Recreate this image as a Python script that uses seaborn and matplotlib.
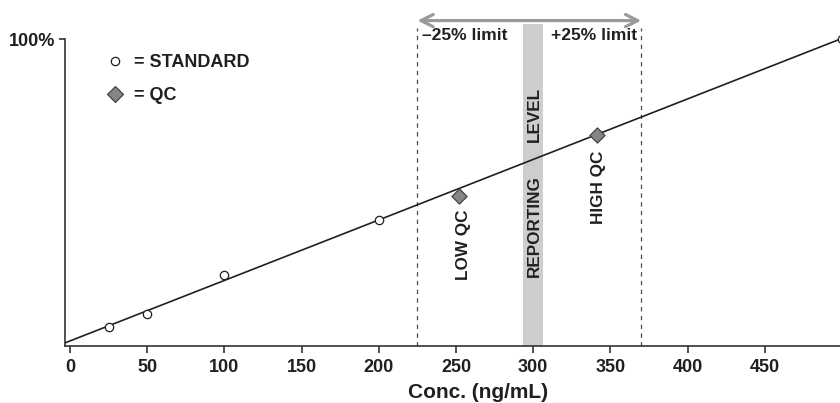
import numpy as np
import pandas as pd
import matplotlib
matplotlib.use("Agg")
import matplotlib.pyplot as plt
from matplotlib.lines import Line2D
import seaborn as sns

# ---- data ----
std_conc = [25, 50, 100, 200, 500]
std_resp = [6.1, 10.5, 23.1, 41.0, 100.0]
qc_conc = [252, 341]
qc_resp = [49.0, 68.7]
qc_labels = ["LOW QC", "HIGH QC"]
reporting_level = 300
band_half = 6.5
limit_low = 225
limit_high = 370
x_ticks = [0, 50, 100, 150, 200, 250, 300, 350, 400, 450]
y_ticks = [100]
y_tick_labels = ["100%"]

sns.set_theme(style="white")
plt.rcParams["font.family"] = ["Liberation Sans", "DejaVu Sans"]
plt.rcParams["font.weight"] = "bold"
ink = "#231f20"

fig = plt.figure(figsize=(8.4, 4.03), dpi=100)
ax = fig.add_axes([65/840, 57/403, 775/840, 336/403])
XMIN, XMAX = -3.24, 498.7
YMIN, YMAX = 0, 109.45
ax.set_xlim(XMIN, XMAX)
ax.set_ylim(YMIN, YMAX)

# reporting level band
ax.fill_between([reporting_level - band_half, reporting_level + band_half], 0, 104.9,
                color="#cdcdcf", lw=0, zorder=1)
# limit dashed lines
for xv in (limit_low, limit_high):
    ax.plot([xv, xv], [0, 103.6], ls=(0, (3.5, 3.5)), color="#4a4a4a", lw=0.9, zorder=2)
# double-headed arrow
ax.annotate("", xy=(limit_high, 106.0), xytext=(limit_low, 106.0),
            arrowprops=dict(arrowstyle="<->", color="#9a9a9a", lw=2.3,
                            mutation_scale=22, shrinkA=0, shrinkB=0),
            annotation_clip=False)
ax.text(limit_low + 3, 101.3, "\u201325% limit", ha="left", va="center",
        fontsize=12.6, fontweight="bold", color=ink)
ax.text(limit_high - 3, 101.3, "+25% limit", ha="right", va="center",
        fontsize=12.6, fontweight="bold", color=ink)

# calibration line
sns.regplot(x=std_conc, y=std_resp, scatter=False, ci=None, truncate=False,
            color=ink, line_kws=dict(lw=1.2, zorder=3), ax=ax)
ax.set_xlim(XMIN, XMAX)
ax.set_ylim(YMIN, YMAX)

# points
std_df = pd.DataFrame({"conc": std_conc, "resp": std_resp})
qc_df = pd.DataFrame({"conc": qc_conc, "resp": qc_resp})
sns.scatterplot(data=std_df, x="conc", y="resp", marker="o", s=36, color="white",
                edgecolor=ink, linewidth=0.9, zorder=5, ax=ax, clip_on=False)
sns.scatterplot(data=qc_df, x="conc", y="resp", marker="D", s=60, color="#858585",
                edgecolor="#3a3a3a", linewidth=0.8, zorder=5, ax=ax, clip_on=False)

# rotated labels
ax.text(254.7, 44.6, "LOW QC", rotation=90, ha="center", va="top",
        fontsize=12.3, fontweight="bold", color=ink)
ax.text(342.6, 63.8, "HIGH QC", rotation=90, ha="center", va="top",
        fontsize=12.3, fontweight="bold", color=ink)
ax.text(reporting_level + 0.5, 22.6, "REPORTING", rotation=90, ha="center", va="bottom",
        fontsize=12.3, fontweight="bold", color=ink)
ax.text(reporting_level + 0.5, 66.5, "LEVEL", rotation=90, ha="center", va="bottom",
        fontsize=12.3, fontweight="bold", color=ink)

# legend
handles = [Line2D([], [], marker="o", ls="", markersize=6, markerfacecolor="white",
                  markeredgecolor=ink, markeredgewidth=0.9),
           Line2D([], [], marker="D", ls="", markersize=8, markerfacecolor="#858585",
                  markeredgecolor="#3a3a3a", markeredgewidth=0.8)]
leg = ax.legend(handles, ["= STANDARD", "= QC"], loc="upper left",
                bbox_to_anchor=(0.043, 0.891), frameon=False, handlelength=1.0,
                handletextpad=0.55, labelspacing=0.92, borderaxespad=0,
                prop=dict(size=13, weight="bold"))
for t in leg.get_texts():
    t.set_color(ink)

# axes styling
for s in ("top", "right"):
    ax.spines[s].set_visible(False)
for s in ("left", "bottom"):
    ax.spines[s].set_color("#333333")
    ax.spines[s].set_linewidth(1.2)
ax.spines["left"].set_bounds(YMIN, 100)
ax.set_xticks(x_ticks)
ax.set_xticklabels([str(v) for v in x_ticks])
ax.set_yticks(y_ticks)
ax.set_yticklabels(y_tick_labels)
ax.tick_params(axis="x", direction="out", length=5, width=1.2, color="#333333",
               pad=4, labelsize=13, labelcolor=ink, bottom=True)
ax.tick_params(axis="y", direction="out", length=4, width=1.2, color="#333333",
               pad=3, labelsize=13, labelcolor=ink, left=True)
for lab in ax.get_xticklabels() + ax.get_yticklabels():
    lab.set_fontweight("bold")
ax.set_ylabel("")
ax.set_xlabel("Conc. (ng/mL)", fontsize=15, fontweight="bold", color=ink, va="center")
ax.xaxis.set_label_coords((478.5 - 65) / 775, -(392 - 346) / 336)
ax.grid(False)

fig.savefig("out.png", dpi=100)
